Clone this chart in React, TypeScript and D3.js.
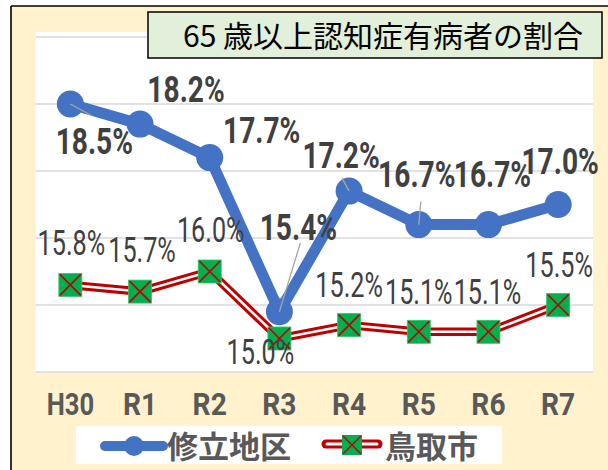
import React from 'react';
import * as d3 from 'd3';

const categories = ['H30', 'R1', 'R2', 'R3', 'R4', 'R5', 'R6', 'R7'];
const shuritsuValues = [18.5, 18.2, 17.7, 15.4, 17.2, 16.7, 16.7, 17.0];
const tottoriValues = [15.8, 15.7, 16.0, 15.0, 15.2, 15.1, 15.1, 15.5];
const yTicks = [14.5, 15.5, 16.5, 17.5, 18.5, 19.5];
const seriesNames = ['修立地区', '鳥取市'];
const titleText = '65 歳以上認知症有病者の割合';

// layout (label centre offsets relative to their points)
const blueLabelOffsets: [number, number][] = [
  [24, 37], [46, -35], [52, -28], [19, -85], [-8, -36], [-2, -51], [4, -51], [2, -44],
];
const redLabelOffsets: [number, number][] = [
  [1, -43], [2, -42], [1, -42], [-19, 13], [0, -41], [0, -41], [-1, -41], [1, -41],
];
const blueLeaders: ([number, number] | null)[] = [
  [22, 12], null, null, [21, -69], [-7, -13], [2, -23], null, null,
];

const W = 608;
const H = 470;
const plot = { left: 35.5, right: 593, top: 37, bottom: 372 };

const BLUE = '#4472C4';
const RED = '#C00000';
const GREEN = '#00B050';
const LABEL = '#404040';
const AXIS = '#595959';
const CREAM = '#FFF2CC';

export default function App() {
  const x = d3.scaleBand<string>().domain(categories).range([plot.left, plot.right]).padding(0);
  const cx = (c: string) => (x(c) as number) + x.bandwidth() / 2;
  const y = d3.scaleLinear().domain([14.5, 19.5]).range([plot.bottom, plot.top]);

  const line = d3
    .line<number>()
    .x((_, i) => cx(categories[i]))
    .y((v) => y(v));

  const bluePath = line(shuritsuValues) || '';
  const redPath = line(tottoriValues) || '';
  const fmt = (v: number) => v.toFixed(1) + '%';

  const numFont = 'Roboto, "Liberation Sans", sans-serif';
  const jpFont = '"Noto Sans CJK JP", "Noto Sans", sans-serif';

  const blueSize = 37;
  const redSize = 36;

  return (
    <svg
      width={W}
      height={H}
      style={{ position: 'absolute', left: 0, top: 0, display: 'block' }}
    >
      <rect x={0} y={0} width={W} height={H} fill="#ffffff" />
      <rect x={11} y={6} width={W - 11} height={H - 6} fill={CREAM} />
      <line x1={11} y1={6} x2={W} y2={6} stroke="#000" strokeWidth={1.6} />
      <line x1={11} y1={6} x2={11} y2={H} stroke="#000" strokeWidth={1.6} />

      {/* plot area */}
      <rect x={plot.left} y={32} width={plot.right - plot.left} height={plot.bottom - 32 + 1} fill="#ffffff" />
      {yTicks.map((t) => (
        <line
          key={t}
          x1={plot.left}
          x2={plot.right}
          y1={y(t)}
          y2={y(t)}
          stroke="#D9D9D9"
          strokeWidth={1.5}
        />
      ))}

      {/* blue series */}
      <path d={bluePath} fill="none" stroke={BLUE} strokeWidth={11} strokeLinejoin="round" />
      {shuritsuValues.map((v, i) => (
        <circle key={i} cx={cx(categories[i])} cy={y(v)} r={13.5} fill={BLUE} />
      ))}
      {shuritsuValues.map((v, i) => {
        const l = blueLeaders[i];
        if (!l) return null;
        const px = cx(categories[i]);
        const py = y(v);
        return (
          <line key={i} x1={px} y1={py} x2={px + l[0]} y2={py + l[1]} stroke="#A6A6A6" strokeWidth={1.3} />
        );
      })}

      {/* red series */}
      <path d={redPath} fill="none" stroke={RED} strokeWidth={8.5} />
      <path d={redPath} fill="none" stroke="#ffffff" strokeWidth={2.5} />
      {tottoriValues.map((v, i) => {
        const px = cx(categories[i]);
        const py = y(v);
        const s = 11.5;
        return (
          <g key={i}>
            <rect x={px - s} y={py - s} width={2 * s} height={2 * s} fill={GREEN} stroke="#3CBF6A" strokeWidth={0.8} />
            <line x1={px - s + 1} y1={py - s + 1} x2={px + s - 1} y2={py + s - 1} stroke={RED} strokeWidth={1.6} />
            <line x1={px - s + 1} y1={py + s - 1} x2={px + s - 1} y2={py - s + 1} stroke={RED} strokeWidth={1.6} />
          </g>
        );
      })}

      {/* blue labels */}
      {shuritsuValues.map((v, i) => {
        const px = cx(categories[i]) + blueLabelOffsets[i][0];
        const py = y(v) + blueLabelOffsets[i][1];
        return (
          <g key={i} transform={`translate(${px},${py + blueSize * 0.355}) scale(0.76,1)`}>
            <text
              textAnchor="middle"
              fontFamily={numFont}
              fontWeight={700}
              fontSize={blueSize}
              fill={LABEL}
            >
              {fmt(v)}
            </text>
          </g>
        );
      })}

      {/* red labels */}
      {tottoriValues.map((v, i) => {
        const px = cx(categories[i]) + redLabelOffsets[i][0];
        const py = y(v) + redLabelOffsets[i][1];
        return (
          <g key={i} transform={`translate(${px},${py + redSize * 0.355}) scale(0.7,1)`}>
            <text
              textAnchor="middle"
              fontFamily={numFont}
              fontWeight={400}
              fontSize={redSize}
              fill={LABEL}
            >
              {fmt(v)}
            </text>
          </g>
        );
      })}

      {/* x axis labels */}
      {categories.map((c) => (
        <g key={c} transform={`translate(${cx(c)},415) scale(${c === 'H30' ? 0.8 : 0.88},1)`}>
          <text textAnchor="middle" fontFamily={numFont} fontWeight={700} fontSize={32} fill={AXIS}>
            {c}
          </text>
        </g>
      ))}

      {/* title */}
      <rect x={148} y={12} width={454} height={46} fill="#E2EFDA" stroke="#000" strokeWidth={1.5} />
      <text x={383} y={47} textAnchor="middle" fontFamily={jpFont} fontSize={30} fill="#000">
        {titleText}
      </text>

      {/* legend */}
      <rect x={76} y={426} width={426} height={38} fill="#ffffff" />
      <line x1={105} y1={446} x2={163} y2={446} stroke={BLUE} strokeWidth={10} strokeLinecap="round" />
      <circle cx={134} cy={446} r={10} fill={BLUE} />
      <text x={167} y={458} fontFamily={jpFont} fontWeight={700} fontSize={31} fill={AXIS}>
        {seriesNames[0]}
      </text>
      <line x1={326} y1={444} x2={378} y2={444} stroke={RED} strokeWidth={9} strokeLinecap="round" />
      <line x1={327} y1={444} x2={377} y2={444} stroke="#ffffff" strokeWidth={3} strokeLinecap="round" />
      <g>
        <rect x={342} y={435} width={20} height={20} fill={GREEN} />
        <line x1={343} y1={436} x2={361} y2={454} stroke={RED} strokeWidth={1.5} />
        <line x1={343} y1={454} x2={361} y2={436} stroke={RED} strokeWidth={1.5} />
      </g>
      <text x={385} y={458} fontFamily={jpFont} fontWeight={700} fontSize={31} fill={AXIS}>
        {seriesNames[1]}
      </text>
    </svg>
  );
}
